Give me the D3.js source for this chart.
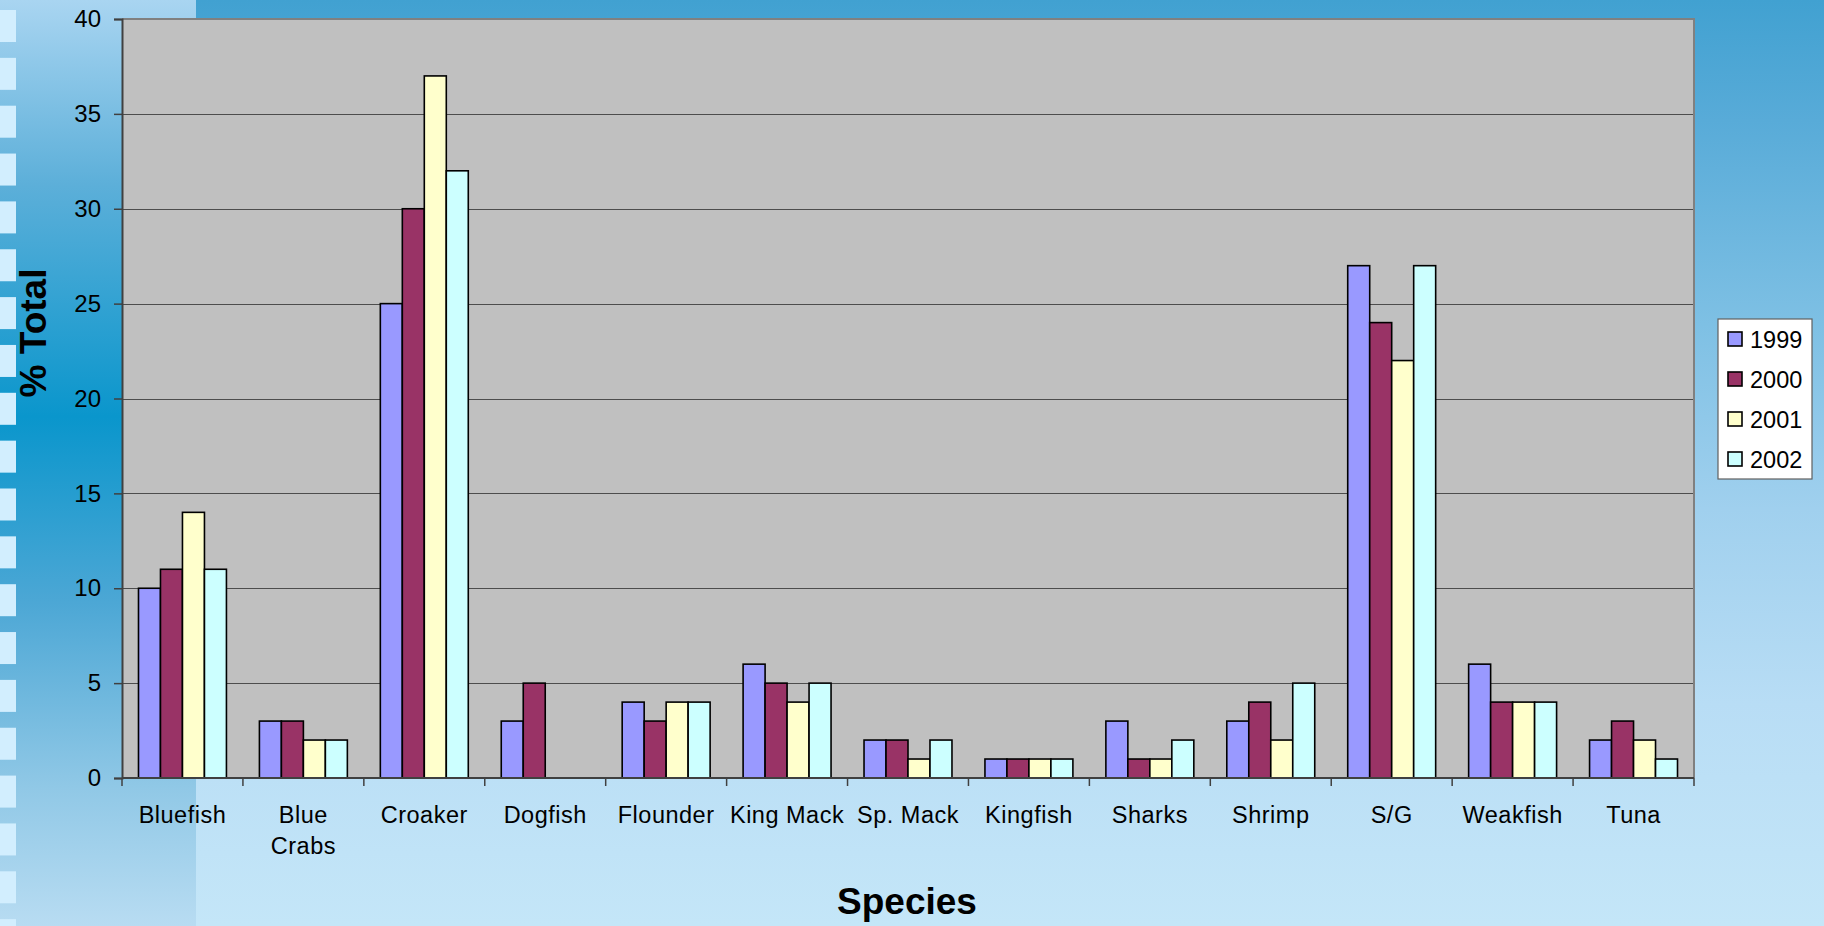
<!DOCTYPE html>
<html>
<head>
<meta charset="utf-8">
<script src="https://cdn.jsdelivr.net/npm/d3@7"></script>
<style>
  html, body { margin: 0; padding: 0; overflow: hidden; }
  svg { display: block; font-family: "Liberation Sans", Arial, sans-serif; }
</style>
</head>
<body>
<svg id="chart" width="1824" height="926"></svg>
<script>
// Share of total catch by species, 1999-2002
const categories = ["Bluefish", "Blue Crabs", "Croaker", "Dogfish", "Flounder", "King Mack",
  "Sp. Mack", "Kingfish", "Sharks", "Shrimp", "S/G", "Weakfish", "Tuna"];
const seriesNames = ["1999", "2000", "2001", "2002"];
const values1999 = [10, 3, 25, 3, 4, 6, 2, 1, 3, 3, 27, 6, 2];
const values2000 = [11, 3, 30, 5, 3, 5, 2, 1, 1, 4, 24, 4, 3];
const values2001 = [14, 2, 37, 0, 4, 4, 1, 1, 1, 2, 22, 4, 2];
const values2002 = [11, 2, 32, 0, 4, 5, 2, 1, 2, 5, 27, 4, 1];
const yTicks = [0, 5, 10, 15, 20, 25, 30, 35, 40];
const colors = ["#9999ff", "#993366", "#ffffcc", "#ccffff"];

const seriesValues = [values1999, values2000, values2001, values2002];
const rows = categories.map((c, i) => ({
  category: c,
  values: seriesNames.map((s, k) => ({ series: s, value: seriesValues[k][i], k }))
}));

const W = 1824, H = 926;
const plot = { left: 122, top: 19, right: 1694, bottom: 778 };
const svg = d3.select("#chart");
const defs = svg.append("defs");

// background: main gradient and darker side panel
const gMain = defs.append("linearGradient").attr("id", "bgMain")
  .attr("x1", 0).attr("y1", 0).attr("x2", 0).attr("y2", 1);
[[0, "#41a1d1"], [0.13, "#58abd8"], [0.35, "#7ec0e4"], [0.55, "#a0d0ee"], [0.76, "#b8ddf5"], [1, "#c4e6f8"]]
  .forEach(([o, c]) => gMain.append("stop").attr("offset", o).attr("stop-color", c));
const gSide = defs.append("linearGradient").attr("id", "bgSide")
  .attr("x1", 0).attr("y1", 0).attr("x2", 0).attr("y2", 1);
[[0, "#a9d5f1"], [0.2, "#5cafd9"], [0.45, "#0a96cc"], [0.65, "#4ca7d5"], [0.85, "#90c8e6"], [1, "#b8dcf2"]]
  .forEach(([o, c]) => gSide.append("stop").attr("offset", o).attr("stop-color", c));

svg.append("rect").attr("width", W).attr("height", H).attr("fill", "url(#bgMain)");
svg.append("rect").attr("width", 196).attr("height", H).attr("fill", "url(#bgSide)");
// light squares running down the left edge
svg.append("g").selectAll("rect").data(d3.range(20)).join("rect")
  .attr("x", 0).attr("y", d => 10 + d * 47.85).attr("width", 16).attr("height", 32)
  .attr("fill", "#d2eefe");

// scales
const x0 = d3.scaleBand().domain(categories).range([plot.left, plot.right]).paddingInner(0).paddingOuter(0);
const groupWidth = x0.bandwidth() * 4 / 5.5;
const x1 = d3.scaleBand().domain(seriesNames).range([0, groupWidth]).padding(0);
const y = d3.scaleLinear().domain([0, 40]).range([plot.bottom, plot.top]);

// plot area
svg.append("rect").attr("x", plot.left).attr("y", plot.top)
  .attr("width", plot.right - plot.left).attr("height", plot.bottom - plot.top)
  .attr("fill", "#c0c0c0");

// gridlines
svg.append("g").selectAll("line").data(yTicks.filter(t => t > 0 && t < 40)).join("line")
  .attr("x1", plot.left).attr("x2", plot.right)
  .attr("y1", d => Math.round(y(d)) + 0.5).attr("y2", d => Math.round(y(d)) + 0.5)
  .attr("stroke", "#4d4d4d").attr("stroke-width", 1.2);

// plot border (top and right)
svg.append("path")
  .attr("d", `M${plot.left},${plot.top}H${plot.right}V${plot.bottom}`)
  .attr("fill", "none").attr("stroke", "#808080").attr("stroke-width", 2);

// bars
const groups = svg.append("g").selectAll("g").data(rows).join("g")
  .attr("transform", d => `translate(${x0(d.category) + (x0.bandwidth() - groupWidth) / 2},0)`);
groups.selectAll("rect").data(d => d.values.filter(v => v.value > 0)).join("rect")
  .attr("x", d => x1(d.series))
  .attr("y", d => y(d.value))
  .attr("width", x1.bandwidth())
  .attr("height", d => y(0) - y(d.value))
  .attr("fill", d => colors[d.k])
  .attr("stroke", "#000").attr("stroke-width", 1.6);

// y axis
const yAxis = d3.axisLeft(y).tickValues(yTicks).tickSize(8).tickPadding(13);
const yg = svg.append("g").attr("transform", `translate(${plot.left},0)`).call(yAxis);
yg.select(".domain").attr("stroke", "#404040").attr("stroke-width", 2);
yg.selectAll(".tick line").attr("stroke", "#404040").attr("stroke-width", 1.5);
yg.selectAll(".tick text").attr("font-size", 24).attr("fill", "#000")
  .attr("font-family", "Liberation Sans, Arial, sans-serif");

// x axis: baseline and tick marks at category boundaries
const boundaries = categories.map(c => x0(c)).concat([plot.right]);
svg.append("line").attr("x1", plot.left).attr("x2", plot.right)
  .attr("y1", plot.bottom).attr("y2", plot.bottom)
  .attr("stroke", "#404040").attr("stroke-width", 2);
svg.append("g").selectAll("line").data(boundaries).join("line")
  .attr("x1", d => d).attr("x2", d => d)
  .attr("y1", plot.bottom).attr("y2", plot.bottom + 8)
  .attr("stroke", "#404040").attr("stroke-width", 1.5);

// category labels (two-word crab label wraps onto two lines)
const labelLines = c => c === "Blue Crabs" ? ["Blue", "Crabs"] : [c];
const xl = svg.append("g").selectAll("text").data(categories).join("text")
  .attr("x", d => x0(d) + x0.bandwidth() / 2)
  .attr("y", 823)
  .attr("text-anchor", "middle")
  .attr("font-size", 23.5).attr("letter-spacing", 0.5).attr("fill", "#000");
xl.selectAll("tspan").data(d => labelLines(d).map(t => ({ t, x: x0(d) + x0.bandwidth() / 2 }))).join("tspan")
  .attr("x", d => d.x).attr("dy", (d, i) => i === 0 ? 0 : 31).text(d => d.t);

// axis titles
svg.append("text").attr("x", 907).attr("y", 914).attr("text-anchor", "middle")
  .attr("font-size", 37).attr("font-weight", "bold").attr("fill", "#000").text("Species");
svg.append("text").attr("transform", "translate(46,333) rotate(-90)")
  .attr("text-anchor", "middle").attr("font-size", 37).attr("font-weight", "bold")
  .attr("fill", "#000").text("% Total");

// legend
const legend = svg.append("g");
legend.append("rect").attr("x", 1718).attr("y", 319).attr("width", 94).attr("height", 160)
  .attr("fill", "#fff").attr("stroke", "#606060").attr("stroke-width", 1.2);
const li = legend.selectAll("g").data(seriesNames).join("g")
  .attr("transform", (d, i) => `translate(0,${339 + i * 40})`);
li.append("rect").attr("x", 1728).attr("y", -7).attr("width", 14).attr("height", 14)
  .attr("fill", (d, i) => colors[i]).attr("stroke", "#000").attr("stroke-width", 1.6);
li.append("text").attr("x", 1750).attr("y", 8.5).attr("font-size", 23.5)
  .attr("fill", "#000").text(d => d);
</script>
</body>
</html>
